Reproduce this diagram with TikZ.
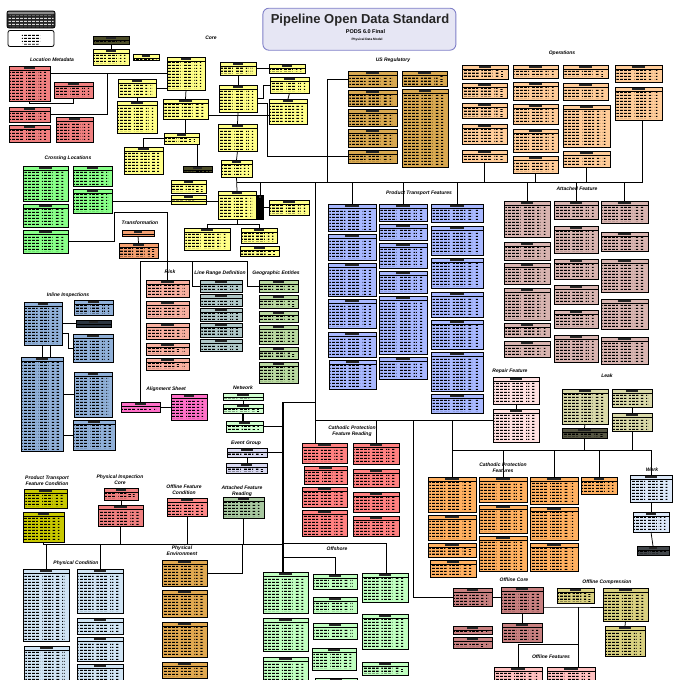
\documentclass[tikz,border=0pt]{standalone}
\usepackage{fontspec}
\setmainfont{Liberation Sans}
\usetikzlibrary{calc,patterns.meta}

\definecolor{coreY}{HTML}{FFFF88}
\definecolor{locR}{HTML}{F08080}
\definecolor{xingG}{HTML}{88FF88}
\definecolor{transO}{HTML}{F4A070}
\definecolor{usG}{HTML}{D8A850}
\definecolor{opsP}{HTML}{FFCC99}
\definecolor{ptB}{HTML}{A8B8FF}
\definecolor{afR}{HTML}{D8B4B0}
\definecolor{repP}{HTML}{FFE0E0}
\definecolor{leakK}{HTML}{D8D8A8}
\definecolor{cpfO}{HTML}{FFB060}
\definecolor{workB}{HTML}{DCE8F8}
\definecolor{ocR}{HTML}{C88080}
\definecolor{cmpK}{HTML}{D8D080}
\definecolor{ofP}{HTML}{FFC0C0}
\definecolor{cprR}{HTML}{FF8080}
\definecolor{offG}{HTML}{C0FFC0}
\definecolor{netG}{HTML}{D0FFD0}
\definecolor{evL}{HTML}{D8D8F0}
\definecolor{alP}{HTML}{FF70C8}
\definecolor{riskS}{HTML}{F8B0A0}
\definecolor{lrdG}{HTML}{B0C8C8}
\definecolor{geoG}{HTML}{B8D8A0}
\definecolor{iiB}{HTML}{90B0D8}
\definecolor{ptfcY}{HTML}{C8C800}
\definecolor{picR}{HTML}{F08080}
\definecolor{ofcR}{HTML}{FF8888}
\definecolor{afrG}{HTML}{A8C8A0}
\definecolor{pcB}{HTML}{D0E4F4}
\definecolor{peO}{HTML}{E0A850}
\definecolor{titleF}{HTML}{E6E6F4}
\definecolor{titleB}{HTML}{8080C8}

\tikzdeclarepattern{
  name=rows,
  type=uncolored,
  bottom left={(0pt,0pt)},
  top right={(4pt,2.5pt)},
  tile size={(4pt,2.5pt)},
  code={\fill (0pt,0pt) rectangle (3.4pt,1.4pt);}
}

\tikzset{
  tbl/.style={draw, line width=0.85pt, inner sep=0pt, outer sep=0pt,
    path picture={
      \coordinate (pnw) at (path picture bounding box.north west);
      \coordinate (pne) at (path picture bounding box.north east);
      \coordinate (psw) at (path picture bounding box.south west);
      \coordinate (pse) at (path picture bounding box.south east);
      \draw[line width=0.5pt] ($(pnw)+(0,-4.2pt)$) -- ($(pne)+(0,-4.2pt)$);
      \fill[black!85] ($(pnw)!0.36!(pne)+(0,-1.1pt)$) rectangle ($(pnw)!0.64!(pne)+(0,-3.1pt)$);
      \fill[pattern=rows, pattern color=black] ($(pnw)!0.03!(pne)+(0,-5.3pt)$) rectangle ($(psw)!0.36!(pse)+(0,1.2pt)$);
      \fill[pattern=rows, pattern color=black] ($(pnw)!0.42!(pne)+(0,-5.3pt)$) rectangle ($(psw)!0.66!(pse)+(0,1.2pt)$);
      \fill[pattern=rows, pattern color=black] ($(pnw)!0.72!(pne)+(0,-5.3pt)$) rectangle ($(psw)!0.79!(pse)+(0,1.2pt)$);
      \fill[pattern=rows, pattern color=black] ($(pnw)!0.85!(pne)+(0,-5.3pt)$) rectangle ($(psw)!0.90!(pse)+(0,1.2pt)$);
    }},
  legdark/.style={draw, fill=black!85, rounded corners=2pt, line width=0.8pt, inner sep=0pt,
    path picture={
      \fill[black!45] ($(path picture bounding box.north west)+(0,-0.5pt)$) rectangle ($(path picture bounding box.north east)+(0,-3pt)$);
      \fill[pattern=rows, pattern color=white!85!black] ($(path picture bounding box.north west)+(1.5pt,-4.5pt)$) rectangle ($(path picture bounding box.south east)+(-1.5pt,1pt)$);
    }},
  legwhite/.style={draw, fill=white, rounded corners=2pt, line width=0.8pt, inner sep=0pt,
    path picture={
      \fill[pattern=rows, pattern color=black] ($(path picture bounding box.north west)!0.3!(path picture bounding box.north east)+(0,-2.5pt)$) rectangle ($(path picture bounding box.south west)!0.7!(path picture bounding box.south east)+(0,2pt)$);
    }},
  conn/.style={draw, line width=0.75pt},
  grp/.style={font=\fontsize{5}{5.6}\selectfont\bfseries\itshape, align=center, inner sep=0pt},
}

% table box: name, x1, y1, x2, y2, fill
\newcommand{\tb}[6]{%
  \pgfmathsetmacro{\tbw}{#4-#2}\pgfmathsetmacro{\tbh}{#5-#3}%
  \fill[black!85] (#2+1.4,#3+1.4) rectangle (#4+1.4,#5+1.4);
  \node[tbl, fill=#6, minimum width=\tbw pt, minimum height=\tbh pt] (#1) at ({(#2+#4)/2},{(#3+#5)/2}) {};}

\begin{document}
\begin{tikzpicture}[x=1pt, y=-1pt]
    \fill[white] (0,0) rectangle (680,680);
    \useasboundingbox (0,0) rectangle (680,680);

    % title and legend
    \node[draw=titleB, fill=titleF, rounded corners=6pt, line width=0.9pt, minimum width=193pt, minimum height=42pt] (title) at (359.4,29.2) {};
    \node[font=\fontsize{13}{14}\selectfont\bfseries, text=black!85] (tMain) at (360,20) {Pipeline Open Data Standard};
    \node[font=\fontsize{5.5}{6}\selectfont\bfseries] (tSub) at (365.5,31.5) {PODS 6.0 Final};
    \node[font=\fontsize{3.2}{3.6}\selectfont\bfseries] (tModel) at (367,39.5) {Physical Data Model};
    \node[legdark, minimum width=48pt, minimum height=17pt] (lg1) at (31,19.5) {};
    \node[legwhite, minimum width=46pt, minimum height=16pt] (lg2) at (31,38.5) {};

    % group labels
    \node[grp] (gCore) at (211,38) {Core};
    \node[grp] (gLoc) at (52,60) {Location Metadata};
    \node[grp] (gXing) at (68,158) {Crossing Locations};
    \node[grp] (gTrans) at (140,223) {Transformation};
    \node[grp] (gUs) at (393,60) {US Regulatory};
    \node[grp] (gOps) at (562,53) {Operations};
    \node[grp] (gPt) at (419,193) {Product Transport Features};
    \node[grp] (gAf) at (577,189) {Attached Feature};
    \node[grp] (gRep) at (510,371) {Repair Feature};
    \node[grp] (gLeak) at (607,376) {Leak};
    \node[grp] (gCpf) at (503,468) {Cathodic Protection\\Features};
    \node[grp] (gWork) at (652,470) {Work};
    \node[grp] (gOc) at (514,580) {Offline Core};
    \node[grp] (gCmp) at (607,582) {Offline Compression};
    \node[grp] (gOf) at (551,657) {Offline Features};
    \node[grp] (gCpr) at (352,431) {Cathodic Protection\\Feature Reading};
    \node[grp] (gOff) at (337,549) {Offshore};
    \node[grp] (gNet) at (243,388) {Network};
    \node[grp] (gEv) at (246,443) {Event Group};
    \node[grp] (gAl) at (166,389) {Alignment Sheet};
    \node[grp] (gRisk) at (170,272) {Risk};
    \node[grp] (gLrd) at (220,273) {Line Range Definition};
    \node[grp] (gGeo) at (276,273) {Geographic Entities};
    \node[grp] (gIi) at (68,295) {Inline Inspections};
    \node[grp] (gPtfc) at (47,481) {Product Transport\\Feature Condition};
    \node[grp] (gPic) at (120,480) {Physical Inspection\\Core};
    \node[grp] (gOfc) at (184,490) {Offline Feature\\Condition};
    \node[grp] (gAfr) at (242,491) {Attached Feature\\Reading};
    \node[grp] (gPc) at (76,563) {Physical Condition};
    \node[grp] (gPe) at (182,551) {Physical\\Environment};

    % core
    \tb{c1}{93}{36}{129}{44}{coreY!30!black}
    \tb{c2}{93}{49}{129}{65}{coreY}
    \tb{c3}{133}{54}{159}{60}{coreY}
    \tb{c4}{167}{57}{205}{90}{coreY}
    \tb{c5}{118}{79}{156}{97}{coreY}
    \tb{c6}{117}{101}{157}{133}{coreY}
    \tb{c7}{163}{99}{208}{119}{coreY}
    \tb{c8}{164}{133}{199}{144}{coreY}
    \tb{c9}{124}{147}{163}{174}{coreY}
    \tb{c10}{183}{166}{212}{172}{coreY!30!black}
    \tb{c11}{220}{62}{256}{75}{coreY}
    \tb{c12}{269}{64}{305}{73}{coreY}
    \tb{c13}{219}{85}{257}{112}{coreY}
    \tb{c14}{270}{77}{309}{93}{coreY}
    \tb{c15}{269}{99}{307}{124}{coreY}
    \tb{c16}{218}{124}{257}{151}{coreY}
    \tb{c17}{221}{160}{252}{177}{coreY}
    \tb{c18}{171}{180}{206}{193}{coreY}
    \tb{c19}{171}{195}{206}{204}{coreY}
    \tb{c20}{218}{191}{256}{219}{coreY}
    \tb{c21}{257}{195}{263}{219}{black}
    \tb{c22}{269}{200}{309}{215}{coreY}
    \tb{c23}{184}{228}{230}{250}{coreY}
    \tb{c24}{241}{228}{277}{243}{coreY}
    \tb{c25}{240}{246}{279}{256}{coreY}

    % location metadata
    \tb{loc1}{9}{66}{50}{101}{locR}
    \tb{loc2}{54}{82}{93}{98}{locR}
    \tb{loc3}{9}{107}{50}{122}{locR}
    \tb{loc4}{9}{125}{50}{142}{locR}
    \tb{loc5}{56}{117}{93}{142}{locR}

    % crossing locations
    \tb{x1}{23}{166}{68}{201}{xingG}
    \tb{x2}{73}{166}{112}{186}{xingG}
    \tb{x3}{73}{189}{112}{213}{xingG}
    \tb{x4}{23}{204}{68}{227}{xingG}
    \tb{x5}{23}{230}{68}{253}{xingG}

    % transformation
    \tb{t1}{122}{230}{154}{236}{transO}
    \tb{t2}{119}{243}{158}{258}{transO}

    % us regulatory
    \tb{us1}{348}{71}{397}{87}{usG}
    \tb{us2}{402}{71}{447}{86}{usG}
    \tb{us3}{348}{90}{397}{106}{usG}
    \tb{us4}{402}{89}{448}{167}{usG}
    \tb{us5}{348}{109}{397}{126}{usG}
    \tb{us6}{348}{129}{397}{147}{usG}
    \tb{us7}{348}{150}{397}{163}{usG}

    % operations
    \tb{o1}{462}{65}{508}{79}{opsP}
    \tb{o2}{462}{83}{507}{98}{opsP}
    \tb{o3}{462}{103}{507}{118}{opsP}
    \tb{o4}{462}{124}{507}{144}{opsP}
    \tb{o5}{462}{150}{507}{162}{opsP}
    \tb{o6}{513}{65}{558}{78}{opsP}
    \tb{o7}{513}{82}{558}{100}{opsP}
    \tb{o8}{513}{104}{558}{124}{opsP}
    \tb{o9}{513}{129}{558}{152}{opsP}
    \tb{o10}{513}{156}{558}{173}{opsP}
    \tb{o11}{563}{65}{608}{78}{opsP}
    \tb{o12}{563}{83}{608}{100}{opsP}
    \tb{o13}{563}{105}{610}{147}{opsP}
    \tb{o14}{563}{151}{610}{167}{opsP}
    \tb{o15}{615}{65}{662}{82}{opsP}
    \tb{o16}{615}{87}{662}{120}{opsP}

    % product transport features
    \tb{p1}{328}{204}{376}{231}{ptB}
    \tb{p2}{328}{234}{376}{260}{ptB}
    \tb{p3}{328}{263}{376}{296}{ptB}
    \tb{p4}{328}{299}{376}{328}{ptB}
    \tb{p5}{328}{332}{376}{357}{ptB}
    \tb{p6}{329}{360}{376}{389}{ptB}
    \tb{p7}{379}{204}{427}{221}{ptB}
    \tb{p8}{379}{224}{427}{240}{ptB}
    \tb{p9}{379}{243}{427}{268}{ptB}
    \tb{p10}{379}{271}{427}{293}{ptB}
    \tb{p11}{379}{296}{427}{354}{ptB}
    \tb{p12}{379}{357}{427}{379}{ptB}
    \tb{p13}{431}{204}{483}{222}{ptB}
    \tb{p14}{431}{226}{483}{255}{ptB}
    \tb{p15}{431}{258}{483}{288}{ptB}
    \tb{p16}{431}{292}{483}{317}{ptB}
    \tb{p17}{431}{320}{483}{349}{ptB}
    \tb{p18}{431}{352}{483}{391}{ptB}
    \tb{p19}{431}{394}{483}{413}{ptB}

    % attached feature
    \tb{a1}{504}{201}{550}{237}{afR}
    \tb{a2}{504}{242}{550}{260}{afR}
    \tb{a3}{504}{263}{550}{284}{afR}
    \tb{a4}{504}{288}{550}{320}{afR}
    \tb{a5}{504}{323}{550}{337}{afR}
    \tb{a6}{504}{341}{550}{357}{afR}
    \tb{a7}{554}{201}{598}{219}{afR}
    \tb{a8}{554}{226}{598}{253}{afR}
    \tb{a9}{554}{259}{598}{279}{afR}
    \tb{a10}{554}{285}{598}{304}{afR}
    \tb{a11}{554}{310}{598}{328}{afR}
    \tb{a12}{554}{335}{598}{362}{afR}
    \tb{a13}{601}{201}{648}{223}{afR}
    \tb{a14}{601}{232}{648}{251}{afR}
    \tb{a15}{601}{259}{648}{292}{afR}
    \tb{a16}{601}{299}{648}{329}{afR}
    \tb{a17}{601}{337}{648}{364}{afR}

    % repair feature and leak
    \tb{r1}{493}{377}{539}{404}{repP}
    \tb{r2}{493}{409}{539}{442}{repP}
    \tb{l1}{562}{389}{608}{424}{leakK}
    \tb{l2}{612}{389}{652}{407}{leakK}
    \tb{l3}{612}{413}{652}{431}{leakK}
    \tb{l4}{562}{428}{607}{438}{leakK!40!black}

    % cathodic protection features
    \tb{cp1}{428}{477}{476}{512}{cpfO}
    \tb{cp2}{428}{515}{476}{540}{cpfO}
    \tb{cp3}{428}{543}{476}{557}{cpfO}
    \tb{cp4}{430}{560}{476}{577}{cpfO}
    \tb{cp5}{479}{477}{527}{502}{cpfO}
    \tb{cp6}{479}{505}{527}{533}{cpfO}
    \tb{cp7}{479}{536}{527}{571}{cpfO}
    \tb{cp8}{530}{477}{578}{504}{cpfO}
    \tb{cp9}{530}{507}{578}{540}{cpfO}
    \tb{cp10}{530}{543}{578}{571}{cpfO}
    \tb{cp11}{581}{477}{617}{494}{cpfO}

    % work
    \tb{w1}{630}{475}{672}{502}{workB}
    \tb{w2}{633}{512}{669}{532}{workB}
    \tb{w3}{637}{546}{669}{555}{workB!30!black}

    % offline core, compression, features
    \tb{oc1}{453}{588}{492}{606}{ocR}
    \tb{oc2}{501}{587}{543}{613}{ocR}
    \tb{oc3}{453}{626}{492}{634}{ocR}
    \tb{oc4}{453}{637}{492}{648}{ocR}
    \tb{oc5}{502}{623}{542}{642}{ocR}
    \tb{cm1}{557}{588}{594}{603}{cmpK}
    \tb{cm2}{603}{588}{648}{621}{cmpK}
    \tb{cm3}{605}{626}{645}{656}{cmpK}
    \tb{of1}{494}{667}{542}{684}{ofP}
    \tb{of2}{547}{667}{595}{684}{ofP}

    % cathodic protection feature reading
    \tb{f1}{302}{443}{347}{463}{cprR}
    \tb{f2}{304}{466}{347}{484}{cprR}
    \tb{f3}{302}{487}{347}{507}{cprR}
    \tb{f4}{302}{510}{347}{536}{cprR}
    \tb{f5}{353}{443}{399}{464}{cprR}
    \tb{f6}{353}{469}{399}{487}{cprR}
    \tb{f7}{353}{492}{399}{512}{cprR}
    \tb{f8}{353}{516}{399}{536}{cprR}

    % offshore
    \tb{s1}{263}{572}{308}{613}{offG}
    \tb{s2}{263}{618}{308}{651}{offG}
    \tb{s3}{263}{657}{308}{684}{offG}
    \tb{s4}{313}{574}{357}{589}{offG}
    \tb{s5}{313}{597}{357}{613}{offG}
    \tb{s6}{313}{623}{357}{639}{offG}
    \tb{s7}{312}{648}{356}{670}{offG}
    \tb{s8}{315}{678}{357}{690}{offG}
    \tb{s9}{362}{573}{408}{602}{offG}
    \tb{s10}{362}{614}{408}{649}{offG}
    \tb{s11}{362}{662}{408}{675}{offG}

    % network, event group, alignment sheet
    \tb{n1}{223}{393}{263}{400}{netG}
    \tb{n2}{223}{404}{263}{413}{netG}
    \tb{n3}{226}{421}{263}{432}{netG}
    \tb{e1}{227}{448}{267}{457}{evL}
    \tb{e2}{226}{463}{267}{473}{evL}
    \tb{al1}{121}{402}{160}{412}{alP}
    \tb{al2}{171}{394}{207}{420}{alP}

    % risk, line range definition, geographic entities
    \tb{rk1}{146}{280}{189}{297}{riskS}
    \tb{rk2}{146}{301}{189}{318}{riskS}
    \tb{rk3}{146}{323}{189}{339}{riskS}
    \tb{rk4}{146}{343}{189}{355}{riskS}
    \tb{rk5}{146}{358}{189}{370}{riskS}
    \tb{ld1}{200}{280}{242}{292}{lrdG}
    \tb{ld2}{200}{294}{242}{306}{lrdG}
    \tb{ld3}{200}{308}{242}{321}{lrdG}
    \tb{ld4}{200}{323}{242}{337}{lrdG}
    \tb{ld5}{200}{339}{242}{351}{lrdG}
    \tb{g1}{259}{280}{298}{292}{geoG}
    \tb{g2}{259}{295}{298}{308}{geoG}
    \tb{g3}{259}{311}{298}{322}{geoG}
    \tb{g4}{259}{325}{298}{344}{geoG}
    \tb{g5}{259}{347}{298}{359}{geoG}
    \tb{g6}{259}{362}{298}{383}{geoG}

    % inline inspections
    \tb{ii1}{24}{302}{62}{345}{iiB}
    \tb{ii2}{74}{300}{113}{315}{iiB}
    \tb{ii3}{76}{320}{111}{327}{iiB!30!black}
    \tb{ii4}{73}{334}{113}{362}{iiB}
    \tb{ii5}{21}{357}{63}{451}{iiB}
    \tb{ii6}{74}{372}{112}{417}{iiB}
    \tb{ii7}{73}{420}{115}{450}{iiB}

    % conditions and readings
    \tb{pf1}{24}{489}{67}{508}{ptfcY}
    \tb{pf2}{23}{512}{64}{542}{ptfcY}
    \tb{pi1}{104}{488}{138}{500}{picR}
    \tb{pi2}{98}{505}{143}{526}{picR}
    \tb{fc1}{167}{498}{207}{516}{ofcR}
    \tb{ar1}{223}{497}{264}{518}{afrG}

    % physical condition, physical environment
    \tb{pc1}{23}{569}{69}{641}{pcB}
    \tb{pc2}{77}{569}{123}{613}{pcB}
    \tb{pc3}{77}{618}{123}{634}{pcB}
    \tb{pc4}{77}{637}{123}{661}{pcB}
    \tb{pc5}{77}{664}{123}{684}{pcB}
    \tb{pc6}{24}{646}{69}{684}{pcB}
    \tb{pe1}{162}{560}{207}{586}{peO}
    \tb{pe2}{162}{590}{207}{617}{peO}
    \tb{pe3}{162}{622}{207}{657}{peO}
    \tb{pe4}{162}{662}{207}{678}{peO}

    % main bus
    \coordinate (busL) at (236.5,182);
    \coordinate (busR) at (642.5,182);
    \draw[conn] (busL) -- (busR);
    \draw[conn] (c21.north) -- (c21.north |- busL);
    \draw[conn] (o5.south) -- (o5.south |- busR);
    \draw[conn] (o10.south) -- (o10.south |- busR);
    \draw[conn] (o14.south) -- (o14.south |- busR);
    \draw[conn] ([xshift=4pt]o16.south) -- ([xshift=4pt]o16.south |- busR);
    \draw[conn] (p1.north) -- (p1.north |- busL);
    \draw[conn] (p7.north) -- (p7.north |- busL);
    \draw[conn] (p13.north) -- (p13.north |- busL);
    \draw[conn] (a1.north) -- (a1.north |- busL);
    \draw[conn] (a7.north) -- (a7.north |- busL);
    \draw[conn] (a13.north) -- (a13.north |- busL);
    \coordinate (usJ) at (327,182);
    \draw[conn] (us1.west) -| (usJ);
    \coordinate (usK) at (267,156.5);
    \draw[conn] (us7.west) -- (usK) |- ([yshift=-5pt]c13.east);

    % core links
    \draw[conn] (c1.south) -- (c2.north);
    \draw[conn] (c5.east) -- (c5.east -| c4.west);
    \draw[conn] (c5.south) -- (c6.north);
    \draw[conn] (c4.south) -- (c7.north);
    \draw[conn] (c7.south) -- (c7.south |- c8.north);
    \draw[conn] ([xshift=-2pt]c8.south east) -- ([xshift=-2pt]c8.south east |- c10.north);
    \draw[conn] (c9.north) |- (c8.west);
    \draw[conn] (c11.east) -- (c11.east -| c12.west);
    \draw[conn] (c11.south) -- (c13.north);
    \draw[conn] (c13.east) -- ++(6,0) |- (c14.west);
    \draw[conn] (c14.south) -- (c15.north);
    \draw[conn] ([yshift=-6pt]c7.east) -- ([yshift=-6pt]c7.east -| c15.west);
    \draw[conn] (c13.south) -- (c16.north);
    \draw[conn] (c16.south) -- (c17.north);
    \draw[conn] (c17.south) -- (c20.north);
    \draw[conn] (c21.east) -- (c21.east -| c22.west);
    \draw[conn] (c23.north) -- ++(0,-4) -| (c20.south);
    \draw[conn] (c24.north) -- ++(0,-4) -| (c20.south);

    % location metadata links
    \coordinate (lmJ) at (107,73);
    \draw[conn] (loc1.east |- lmJ) -- (lmJ -| c4.west);
    \draw[conn] (lmJ) |- (loc3.east);
    \draw[conn] (loc2.south) -- ++(0,5) -| (loc1.south);

    % crossing, transformation, risk links
    \draw[conn] (x3.east) -- (x3.east -| c20.west);
    \coordinate (trJ) at (114,212);
    \draw[conn] (x5.east) -| (trJ) -| (rk1.north);
    \draw[conn] (t1.south) -- (t2.north);
    \coordinate (rkA) at (140.5,261);
    \coordinate (rkB) at (247,261);
    \coordinate (rkC) at (192,261);
    \draw[conn] (al1.north) -- (rkA) -- (rkB) |- (g1.west);
    \draw[conn] (rkC) |- (ld1.west);
    \draw[conn] (al1.east) -- (al1.east -| al2.west);

    % inline inspection links
    \draw[conn] (ii1.east |- ii3.west) -- (ii3.west);
    \draw[conn] (ii4.west) -- ++(-5,0) |- ([yshift=-10pt]ii1.east);
    \draw[conn] ([xshift=-1pt]ii1.south) -- ([xshift=-1pt]ii1.south |- ii5.north);
    \draw[conn] ([xshift=7pt]ii1.south) -- ([xshift=7pt]ii1.south |- ii5.north);
    \draw[conn] (ii6.west -| ii5.east) -- (ii6.west);
    \draw[conn] (ii7.west -| ii5.east) -- (ii7.west);

    % middle verticals
    \coordinate (vA) at (315,182);
    \coordinate (vB) at (315,420);
    \draw[conn] (vA) -- (vB) -- (vB -| r2.west);
    \draw[conn] (vB) -- (vB |- f1.north);
    \draw[conn] (f5.north |- vB) -- (f5.north);
    \coordinate (vC) at (413,420);
    \draw[conn] (vC) |- (oc1.west);
    \coordinate (vD) at (452,420);
    \draw[conn] (vD) -- (cp1.north);
    \draw[conn] (r1.south) -- (r2.north);

    % leak and cathodic protection bus
    \coordinate (lkL) at (452,450);
    \coordinate (lkR) at (651,450);
    \draw[conn] (lkL) -- (lkR);
    \draw[conn] (cp5.north |- lkL) -- (cp5.north);
    \draw[conn] (cp8.north |- lkL) -- (cp8.north);
    \draw[conn] (cp11.north |- lkL) -- (cp11.north);
    \draw[conn] (w1.north |- lkL) -- (w1.north);
    \draw[conn] (l4.south) -- (l4.south |- lkL);
    \draw[conn] (l3.south) -- (l3.south |- lkL);
    \draw[conn] (l1.south) -- (l4.north);
    \draw[conn] (l2.south) -- (l3.north);
    \draw[conn] (w1.south) -- (w2.north);
    \draw[conn] (w2.south) -- (w3.north);

    % offline links
    \draw[conn] (oc1.east) -- (oc1.east -| oc2.west);
    \draw[conn] (oc2.south) -- (oc5.north);
    \coordinate (ofJ) at (578,607);
    \coordinate (ofK) at (578,644);
    \draw[conn] (oc2.east |- ofJ) -- (ofJ) -- (ofJ -| cm2.west);
    \draw[conn] (ofJ) -- (ofJ |- of2.north);
    \draw[conn] (ofK) -| (of1.north);
    \draw[conn] (cm2.south) -- (cm3.north);

    % west vertical, network, event group, offshore
    \coordinate (wA) at (283,402);
    \draw[conn] (wA) -- (wA -| vA);
    \draw[conn, line width=1.1pt] (wA) -- (wA |- s1.north);
    \draw[conn] (n1.south) -- (n1.south |- n2.north);
    \draw[conn, line width=1.1pt] (n2.south) -- (n2.south |- n3.north);
    \draw[conn] (n3.east) -- (n3.east -| wA);
    \draw[conn] (e1.east) -- (e1.east -| wA);
    \draw[conn] (e1.south) -- (e1.south |- e2.north);
    \coordinate (osJ) at (386,543);
    \draw[conn] (osJ -| wA) -- (osJ) -- (osJ |- s9.north);
    \coordinate (osK) at (335,557);
    \draw[conn] (osK -| wA) -- (osK) -- (s4.north);

    % physical bus
    \coordinate (phL) at (43.5,544);
    \coordinate (phR) at (283,544);
    \draw[conn] (pf2.south) -- (phL) -- (phR);
    \draw[conn] (pc1.north |- phL) -- (pc1.north);
    \draw[conn] (pc2.north |- phL) -- (pc2.north);
    \draw[conn] (pi2.south) -- (pi2.south |- phL);
    \draw[conn] (fc1.south) -- (fc1.south |- phL);
    \draw[conn] (ar1.south) -- (ar1.south |- phL);
    \coordinate (peJ) at (242,544);
    \draw[conn] (peJ) |- (pe1.east);
    \draw[conn] (pi1.south) -- (pi1.south |- pi2.north);
\end{tikzpicture}
\end{document}
